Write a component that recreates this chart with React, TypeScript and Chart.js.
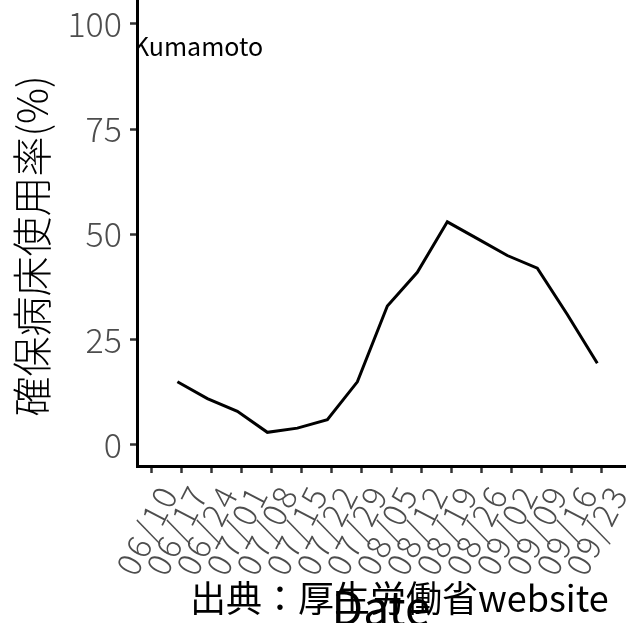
import React, { useEffect, useRef } from "react";
import { Chart, registerables } from "chart.js";

Chart.register(...registerables);

const tickLabels = ["06/10","06/17","06/24","07/01","07/08","07/15","07/22","07/29","08/05","08/12","08/19","08/26","09/02","09/09","09/16","09/23"];
// day offsets from 06/10 of each observation
const pointDays = [6, 13, 20, 27, 34, 41, 48, 55, 62, 69, 76, 83, 90, 97, 104];
const usageRate = [15, 11, 8, 3, 4, 6, 15, 33, 41, 53, 49, 45, 42, 31, 19.4];
const yTicks = [0, 25, 50, 75, 100];

const regionLabel = "Kumamoto";
const yTitle = "確保病床使用率(%)";
const xTitle = "Date";
const sourceCJK = "出典：厚生労働省";
const sourceLatin = "website";

const FONT = "'Noto Sans CJK JP', 'Noto Sans', sans-serif";

export default function App() {
  const ref = useRef<HTMLCanvasElement | null>(null);
  useEffect(() => {
    if (!ref.current) return;
    const textPlugin = {
      id: "texts",
      beforeDatasetsDraw(chart: any) {
        const { ctx, chartArea } = chart;
        ctx.save();
        ctx.beginPath();
        ctx.rect(chartArea.left, chartArea.top, chartArea.right - chartArea.left, chartArea.bottom - chartArea.top);
        ctx.clip();
        ctx.fillStyle = "#000";
        ctx.font = `25px ${FONT}`;
        ctx.textAlign = "left";
        ctx.textBaseline = "alphabetic";
        ctx.fillText(regionLabel, 133, 56);
        ctx.restore();
      },
      afterDraw(chart: any) {
        const { ctx } = chart;
        const xs = chart.scales.x;
        const base = chart.chartArea.bottom;

        // rotated x tick labels
        ctx.save();
        ctx.fillStyle = "#4d4d4d";
        ctx.font = `300 33px ${FONT}`;
        (ctx as any).letterSpacing = "2.5px";
        ctx.textAlign = "right";
        ctx.textBaseline = "middle";
        tickLabels.forEach((lab, i) => {
          const px = xs.getPixelForValue(i * 7);
          ctx.save();
          ctx.translate(px + 17, base + 21);
          ctx.rotate((-63 * Math.PI) / 180);
          ctx.fillText(lab, 0, 0);
          ctx.restore();
        });
        ctx.restore();

        ctx.save();
        ctx.fillStyle = "#000";
        ctx.translate(32, 246);
        ctx.rotate(-Math.PI / 2);
        ctx.font = `300 40px ${FONT}`;
        ctx.textAlign = "center";
        ctx.textBaseline = "middle";
        ctx.fillText(yTitle, 0, 0);
        ctx.restore();

        ctx.save();
        ctx.fillStyle = "#000";
        ctx.font = `46px ${FONT}`;
        ctx.textAlign = "center";
        ctx.textBaseline = "alphabetic";
        ctx.fillText(xTitle, 381, 625);
        ctx.restore();

        ctx.save();
        ctx.fillStyle = "#000";
        ctx.font = `36px ${FONT}`;
        ctx.textAlign = "left";
        ctx.textBaseline = "alphabetic";
        ctx.fillText(sourceCJK, 190, 612);
        const w = ctx.measureText(sourceCJK).width;
        ctx.fillText(sourceLatin, 190 + w, 612);
        ctx.restore();
      },
    };

    const chart = new Chart(ref.current, {
      type: "line",
      data: {
        datasets: [
          {
            data: pointDays.map((d, i) => ({ x: d, y: usageRate[i] })),
            borderColor: "#000",
            borderWidth: 3,
            pointRadius: 0,
            fill: false,
            tension: 0,
          },
        ],
      },
      options: {
        animation: false,
        responsive: false,
        maintainAspectRatio: false,
        layout: { padding: 0 },
        plugins: { legend: { display: false }, tooltip: { enabled: false } },
        scales: {
          x: {
            type: "linear",
            min: -3.43,
            max: 110.7,
            afterBuildTicks: (scale: any) => {
              scale.ticks = tickLabels.map((_, i) => ({ value: i * 7 }));
            },
            afterFit: (scale: any) => {
              scale.height = 157;
              scale.paddingLeft = 0;
              scale.paddingRight = 0;
            },
            ticks: { display: false, autoSkip: false },
            grid: { display: true, drawOnChartArea: false, drawTicks: true, tickLength: 7, tickWidth: 2.5, tickColor: "#333" },
            border: { display: true, color: "#000", width: 3 },
          },
          y: {
            type: "linear",
            min: -5,
            max: 105.7,
            afterBuildTicks: (scale: any) => {
              scale.ticks = yTicks.map((v) => ({ value: v }));
            },
            afterFit: (scale: any) => {
              scale.width = 137;
              scale.paddingTop = 0;
              scale.paddingBottom = 0;
            },
            ticks: {
              padding: 8,
              color: "#4d4d4d",
              font: { family: FONT, size: 34, weight: "300" as any },
            },
            grid: { display: true, drawOnChartArea: false, drawTicks: true, tickLength: 7, tickWidth: 2.5, tickColor: "#333" },
            border: { display: true, color: "#000", width: 3 },
          },
        },
      },
      plugins: [textPlugin],
    });
    return () => chart.destroy();
  }, []);
  return (
    <div style={{ position: "fixed", left: 0, top: 0, width: 626, height: 623, background: "#fff" }}>
      <canvas ref={ref} width={626} height={623} style={{ display: "block" }} />
    </div>
  );
}
